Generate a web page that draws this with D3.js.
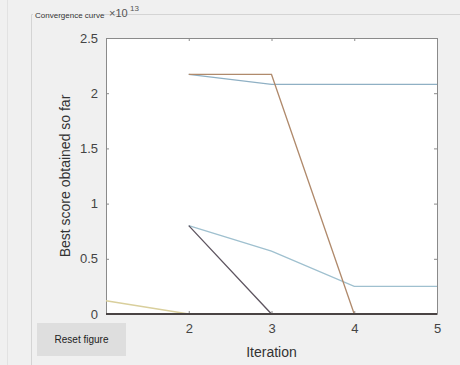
<!DOCTYPE html>
<html>
<head>
<meta charset="utf-8">
<script src="https://cdn.jsdelivr.net/npm/d3@7"></script>
<style>
  body { margin: 0; background: #f0f0f0; }
  svg { display: block; font-family: "Liberation Sans", Arial, sans-serif; }
</style>
</head>
<body>
<div id="chart"></div>
<script>
// data (scores in absolute units, axis shows x10^13)
var iterations = [1, 2, 3, 4, 5];
var xTicks = [1, 2, 3, 4, 5];
var yTicks = [0, 0.5e13, 1e13, 1.5e13, 2e13, 2.5e13];

var scoreA = [null, 2.17e13, 2.17e13, 0, 0];
var scoreB = [null, 2.17e13, 2.08e13, 2.08e13, 2.08e13];
var scoreC = [null, 0.80e13, 0.57e13, 0.25e13, 0.25e13];
var scoreD = [null, 0.80e13, 0, 0, 0];
var scoreE = [0.12e13, 0, 0, 0, 0];

var series = [
    { values: scoreE, color: "#d9cf9c" },
    { values: scoreC, color: "#9fc0cf" },
    { values: scoreB, color: "#8fb0c4" },
    { values: scoreD, color: "#5e5560" },
    { values: scoreA, color: "#b08a6c" }
];

var svgWidth = 460;
var svgHeight = 365;

var margin = { top: 38, right: 23, bottom: 51, left: 106 };
var width = 437 - margin.left;
var height = 314 - margin.top;

var svg = d3.select("#chart")
    .append("svg")
    .attr("width", svgWidth)
    .attr("height", svgHeight);

// window / panel frame
svg.append("rect").attr("width", svgWidth).attr("height", svgHeight).attr("fill", "#f0f0f0");
svg.append("line").attr("x1", 7.5).attr("x2", 7.5).attr("y1", 0).attr("y2", svgHeight)
    .attr("stroke", "#e2e2e2");
svg.append("line").attr("x1", 31.5).attr("x2", 31.5).attr("y1", 14.5).attr("y2", svgHeight)
    .attr("stroke", "#d4d4d4");
svg.append("line").attr("x1", 31.5).attr("x2", svgWidth).attr("y1", 14.5).attr("y2", 14.5)
    .attr("stroke", "#d4d4d4");
svg.append("rect").attr("x", 33).attr("y", 8).attr("width", 71).attr("height", 12).attr("fill", "#f0f0f0");
svg.append("text").attr("x", 35).attr("y", 18)
    .attr("font-size", 8).attr("fill", "#333")
    .text("Convergence curve");

var chartGroup = svg.append("g")
    .attr("transform", `translate(${margin.left}, ${margin.top})`);

var xScale = d3.scaleLinear().domain([1, 5]).range([0, width]);
var yScale = d3.scaleLinear().domain([0, 2.5e13]).range([height, 0]);

chartGroup.append("rect")
    .attr("width", width).attr("height", height)
    .attr("fill", "#ffffff");

// axes with inward ticks like MATLAB; the "1" label sits under the reset button
var bottomAxis = d3.axisBottom(xScale).tickValues(xTicks).tickSizeInner(-3).tickSizeOuter(0).tickPadding(10)
    .tickFormat(d => d === 1 ? "" : d3.format("d")(d));
var topAxis = d3.axisTop(xScale).tickValues(xTicks).tickSizeInner(-3).tickSizeOuter(0).tickFormat("");
var leftAxis = d3.axisLeft(yScale).tickValues(yTicks).tickSizeInner(-3).tickSizeOuter(0).tickPadding(8)
    .tickFormat(d => d3.format("~g")(d / 1e13));
var rightAxis = d3.axisRight(yScale).tickValues(yTicks).tickSizeInner(-3).tickSizeOuter(0).tickFormat("");

function styleAxis(g) {
    g.select(".domain").attr("stroke", "#8a8a8a");
    g.selectAll(".tick line").attr("stroke", "#8a8a8a");
    g.selectAll(".tick text").attr("fill", "#444").attr("font-size", 13)
        .attr("font-family", "Liberation Sans, Arial, sans-serif");
}

chartGroup.append("g").attr("transform", `translate(0, ${height})`).call(bottomAxis).call(styleAxis);
chartGroup.append("g").call(topAxis).call(styleAxis);
chartGroup.append("g").call(leftAxis).call(styleAxis);
chartGroup.append("g").attr("transform", `translate(${width}, 0)`).call(rightAxis).call(styleAxis);

// lines
var line = d3.line()
    .defined(d => d[1] !== null)
    .x(d => xScale(d[0]))
    .y(d => yScale(d[1]));

series.forEach(function(s) {
    chartGroup.append("path")
        .datum(iterations.map((it, i) => [it, s.values[i]]))
        .attr("fill", "none")
        .attr("stroke", s.color)
        .attr("stroke-width", 1.3)
        .attr("d", line);
});

// heavy baseline where several curves sit at zero
chartGroup.append("path")
    .datum(iterations.map(it => [it, 0]))
    .attr("fill", "none")
    .attr("stroke", "#4a4444")
    .attr("stroke-width", 2)
    .attr("d", line);

// exponent label, base and superscript kept as separate texts
svg.append("text").attr("x", 109).attr("y", 17)
    .attr("font-size", 11).attr("fill", "#555")
    .text("\u00d710");
svg.append("text").attr("x", 130).attr("y", 11)
    .attr("font-size", 8).attr("fill", "#555")
    .text("13");

// axis titles
svg.append("text")
    .attr("x", margin.left + width / 2).attr("y", 357)
    .attr("text-anchor", "middle").attr("font-size", 14).attr("fill", "#333")
    .text("Iteration");

svg.append("text")
    .attr("transform", `translate(70, ${margin.top + height / 2}) rotate(-90)`)
    .attr("text-anchor", "middle").attr("font-size", 14).attr("fill", "#333")
    .text("Best score obtained so far");

// reset button
svg.append("rect").attr("x", 37).attr("y", 323).attr("width", 89).attr("height", 33)
    .attr("fill", "#dedede");
svg.append("text").attr("x", 81.5).attr("y", 343)
    .attr("text-anchor", "middle").attr("font-size", 10).attr("fill", "#222")
    .text("Reset figure");
</script>
</body>
</html>
